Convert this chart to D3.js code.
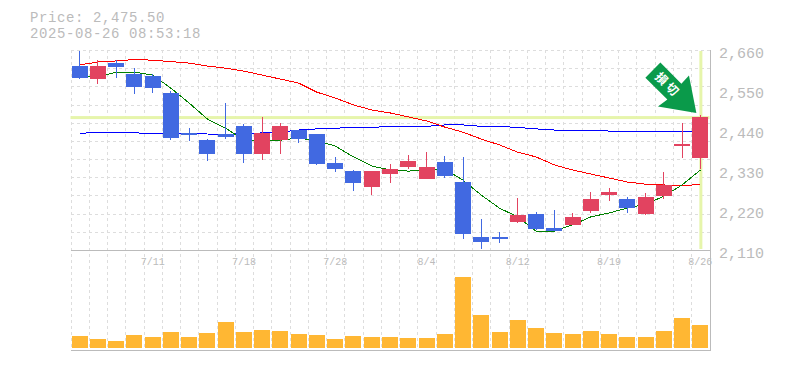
<!DOCTYPE html>
<html>
<head>
<meta charset="utf-8">
<script src="https://cdn.jsdelivr.net/npm/d3@7"></script>
<style>
  html, body { margin: 0; padding: 0; background: #fff; }
  svg { display: block; }
  text { font-family: "Liberation Mono", monospace; fill: #bbb; }
</style>
</head>
<body>
<div id="chart"></div>
<script>
const currentPrice = 2475.5;
const timestamp = "2025-08-26 08:53:18";

const dates = ["7/7","7/8","7/9","7/10","7/11","7/14","7/15","7/16","7/17","7/18","7/22","7/23","7/24","7/25","7/28","7/29","7/30","7/31","8/1","8/4","8/5","8/6","8/7","8/8","8/12","8/13","8/14","8/15","8/18","8/19","8/20","8/21","8/22","8/25","8/26"];
const tickDates = ["7/11","7/18","7/28","8/4","8/12","8/19","8/26"];
const priceTicks = [2110, 2220, 2330, 2440, 2550, 2660];

const opens = [2616,2580,2624,2594,2588,2542,2432,2412,2429,2451,2374,2412,2440,2429,2349,2327,2283,2319,2338,2305,2352,2297,2146,2146,2187,2209,2170,2179,2217,2261,2250,2209,2258,2396,2363];
const closes = [2583,2616,2613,2558,2555,2418,2426,2374,2421,2374,2432,2451,2415,2346,2333,2294,2327,2333,2355,2338,2313,2154,2132,2140,2206,2168,2162,2201,2250,2269,2225,2256,2289,2401,2475.5];
const highs = [2657,2632,2632,2610,2594,2547,2445,2415,2514,2456,2477,2459,2440,2429,2366,2330,2327,2346,2371,2379,2368,2366,2195,2159,2253,2214,2220,2212,2269,2280,2256,2267,2324,2459,2481];
const lows = [2580,2566,2583,2539,2542,2412,2410,2355,2415,2349,2357,2374,2404,2344,2324,2272,2261,2294,2333,2305,2308,2140,2113,2129,2184,2165,2162,2179,2212,2245,2212,2206,2250,2363,2333];

const maShort = [2586,2586,2599,2599,2591,2555,2514,2470,2445,2412,2410,2412,2418,2410,2396,2366,2341,2330,2327,2330,2333,2302,2261,2225,2201,2162,2162,2179,2201,2212,2225,2236,2258,2289,2330];
const maMiddle = [2431,2433,2433,2432,2431,2431,2431,2429,2428,2430,2432,2434,2440,2443,2445,2447,2447,2450,2450,2450,2454,2454,2450,2450,2447,2443,2440,2440,2440,2437,2437,2437,2437,2437,2437];
const maLong = [2619,2627,2630,2634,2632,2628,2624,2616,2610,2602,2591,2580,2569,2544,2528,2509,2495,2487,2476,2465,2448,2434,2415,2399,2379,2366,2344,2330,2319,2308,2297,2291,2289,2286,2291];
const volumes = [12,9,7,13,11,16,11,15,26,16,18,17,14,13,9,12,11,11,10,10,14,71,33,16,28,20,15,14,17,14,11,11,17,30,23];

const width = 785;
const height = 370;
const margin = { left: 70.5, right: 75.5, top: 50, priceBottom: 250, volBottom: 348, bottom: 350 };

const x = d3.scaleBand().domain(dates).range([margin.left, width - margin.right]);
const y = d3.scaleLinear().domain([2110, 2660]).range([margin.priceBottom, margin.top]);
const yVol = d3.scaleLinear().domain([0, 71]).range([margin.volBottom, margin.volBottom - 71]);
const cx = (d) => x(d) + x.bandwidth() / 2;
const snap = (v) => Math.round(v) + 0.5;

const svg = d3.select("#chart").append("svg").attr("width", width).attr("height", height);

svg.append("text").attr("x", 30).attr("y", 22).attr("font-size", 14).attr("letter-spacing", 0.6)
  .text(`Price: ${d3.format(",.2f")(currentPrice)}`);
svg.append("text").attr("x", 30).attr("y", 38).attr("font-size", 14).attr("letter-spacing", 0.6)
  .text(timestamp);

// grid
const grid = svg.append("g").attr("stroke", "#ddd").attr("stroke-dasharray", "3,3").attr("shape-rendering", "crispEdges");
grid.selectAll("line.v").data(dates).enter().append("line")
  .attr("x1", (d) => snap(x(d))).attr("x2", (d) => snap(x(d)))
  .attr("y1", margin.top).attr("y2", margin.bottom);
grid.selectAll("line.h").data(d3.range(2110, 2660.1, 50)).enter().append("line")
  .attr("x1", margin.left).attr("x2", width - margin.right)
  .attr("y1", (d) => snap(y(d))).attr("y2", (d) => snap(y(d)));

// current price bands
const bands = svg.append("g").attr("fill", "#e6f5ab");
bands.append("rect").attr("x", margin.left).attr("width", width - margin.right - margin.left)
  .attr("y", y(currentPrice) - 1).attr("height", 3);
bands.append("rect").attr("x", cx(dates[34]) - 1).attr("width", 3)
  .attr("y", margin.top + 1).attr("height", 198);

// axis frame
const frame = svg.append("g").attr("stroke", "#bbb").attr("shape-rendering", "crispEdges");
frame.append("line").attr("x1", margin.left).attr("x2", width - margin.right + 1).attr("y1", 250.5).attr("y2", 250.5);
frame.append("line").attr("x1", margin.left).attr("x2", width - margin.right + 1).attr("y1", 350.5).attr("y2", 350.5);
frame.append("line").attr("x1", 710.5).attr("x2", 710.5).attr("y1", margin.top).attr("y2", 350.5);

// moving averages
const line = d3.line().x((d, i) => cx(dates[i])).y((d) => y(d));
[[maMiddle, "#0000ff"], [maLong, "#ff0000"], [maShort, "#008000"]].forEach(([values, color]) => {
  svg.append("path").attr("d", line(values)).attr("fill", "none").attr("stroke", color)
    .attr("stroke-width", 1).attr("shape-rendering", "crispEdges");
});

// candles
const colorOf = (i) => (closes[i] >= opens[i] ? "#e24360" : "#4169e1");
const candles = svg.append("g").attr("shape-rendering", "crispEdges");
candles.selectAll("line").data(dates).enter().append("line")
  .attr("x1", (d) => cx(d)).attr("x2", (d) => cx(d))
  .attr("y1", (d, i) => y(highs[i])).attr("y2", (d, i) => y(lows[i]))
  .attr("stroke", (d, i) => colorOf(i));
candles.selectAll("rect").data(dates).enter().append("rect")
  .attr("x", (d) => cx(d) - 8).attr("width", 16)
  .attr("y", (d, i) => y(Math.max(opens[i], closes[i])))
  .attr("height", (d, i) => Math.abs(y(opens[i]) - y(closes[i])))
  .attr("fill", (d, i) => colorOf(i));

// volume
svg.append("g").selectAll("rect").data(dates).enter().append("rect")
  .attr("x", (d) => cx(d) - 8).attr("width", 16)
  .attr("y", (d, i) => yVol(volumes[i]))
  .attr("height", (d, i) => yVol(0) - yVol(volumes[i]))
  .attr("fill", "#ffb733").attr("shape-rendering", "crispEdges");

// axis labels
svg.append("g").selectAll("text").data(priceTicks).enter().append("text")
  .attr("x", 719).attr("y", (d) => y(d) + 8).attr("font-size", 15)
  .text((d) => d3.format(",")(d));
svg.append("g").selectAll("text").data(tickDates).enter().append("text")
  .attr("x", (d) => cx(d)).attr("y", 265).attr("font-size", 10).attr("text-anchor", "middle")
  .text((d) => d);

// arrow pointing at the last candle
const arrow = svg.append("g").attr("transform", `translate(${cx(dates[34]) - 4},${y(currentPrice) - 4})`);
arrow.append("path").attr("fill", "#0a9a4a")
  .attr("d", "M0,0 L-38.4,-6.7 L-29,-13.7 L-51,-35.4 L-36,-50.7 L-15,-29.4 L-7.4,-37.7 Z");
arrow.append("text").attr("transform", "translate(-28.5,-28) rotate(45)")
  .attr("font-size", 12).attr("letter-spacing", 3).attr("text-anchor", "middle").attr("dy", "0.35em")
  .style("font-family", "'Noto Sans CJK JP'").style("fill", "#fff").style("font-weight", 700)
  .text("損切");
</script>
</body>
</html>
